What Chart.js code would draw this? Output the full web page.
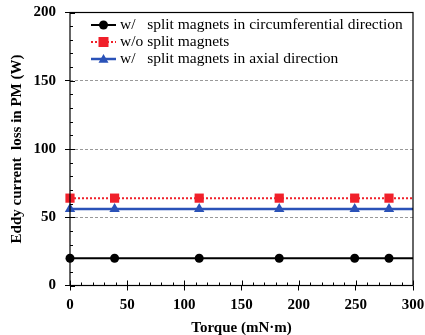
<!DOCTYPE html>
<html>
<head>
<meta charset="utf-8">
<script src="https://cdn.jsdelivr.net/npm/chart.js@4.4.1/dist/chart.umd.min.js"></script>
<style>
  html, body { margin: 0; padding: 0; background: #fff; }
  #wrap { width: 425px; height: 335px; }
</style>
</head>
<body>
<div id="wrap"><canvas id="lossChart" width="425" height="335"></canvas></div>
<script>
// torque points (mN·m); last entry only carries the line to the frame edge
var torque = [0, 39, 113, 183, 249, 279, 300];
var lossCircum = [20, 20, 20, 20, 20, 20, 20];
var lossNoSplit = [64, 64, 64, 64, 64, 64, 64];
var lossAxial = [56, 56, 56, 56, 56, 56, 56];
var seriesNames = [
  "w/   split magnets in circumferential direction",
  "w/o split magnets",
  "w/   split magnets in axial direction"
];
var xTicks = [0, 50, 100, 150, 200, 250, 300];
var yTicks = [0, 50, 100, 150, 200];

const serif = "'Liberation Serif', 'Times New Roman', serif";

function pts(ys) {
  return torque.map((t, i) => ({ x: t, y: ys[i] }));
}
// hide the marker on the extension point
function radii(r) {
  return torque.map((t, i) => (i === torque.length - 1 ? 0 : r));
}

// box frame, inside ticks and the in-plot legend
const framePlugin = {
  id: "frame",
  afterDatasetsDraw(chart) {
    const ctx = chart.ctx;
    const a = chart.chartArea;
    const xs = chart.scales.x, ys = chart.scales.y;
    ctx.save();
    ctx.strokeStyle = "#000";
    ctx.lineWidth = 1;
    ctx.beginPath();
    for (let v = 0; v <= 300; v += 10) {
      const px = Math.round(xs.getPixelForValue(v)) + 0.5;
      const len = v % 50 === 0 ? 5 : 3;
      ctx.moveTo(px, a.bottom);
      ctx.lineTo(px, a.bottom - len);
    }
    for (let v = 0; v <= 200; v += 10) {
      const py = Math.round(ys.getPixelForValue(v)) + 0.5;
      const len = v % 50 === 0 ? 5 : 3;
      ctx.moveTo(a.left, py);
      ctx.lineTo(a.left + len, py);
    }
    ctx.stroke();
    ctx.lineWidth = 1.2;
    ctx.strokeRect(a.left, a.top, a.right - a.left, a.bottom - a.top);

    // legend
    const rows = [25, 42, 59];
    chart.data.datasets.forEach((ds, i) => {
      const y = rows[i];
      ctx.strokeStyle = ds.borderColor;
      ctx.lineWidth = ds.borderWidth;
      ctx.setLineDash(ds.borderDash || []);
      ctx.beginPath();
      ctx.moveTo(91, y);
      ctx.lineTo(116, y);
      ctx.stroke();
      ctx.setLineDash([]);
      ctx.fillStyle = ds.pointBackgroundColor;
      drawMarker(ctx, ds.pointStyle, 103.5, y, 5);
      ctx.fillStyle = "#000";
      ctx.font = "15.5px " + serif;
      ctx.textBaseline = "middle";
      ctx.fillText(seriesNames[i], 120, y);
    });
    ctx.restore();
  }
};

function drawMarker(ctx, style, x, y, r) {
  ctx.beginPath();
  if (style === "rect") {
    ctx.rect(x - r, y - r, 2 * r, 2 * r);
  } else if (style === "triangle") {
    ctx.moveTo(x, y - r);
    ctx.lineTo(x + r, y + r * 0.75);
    ctx.lineTo(x - r, y + r * 0.75);
    ctx.closePath();
  } else {
    ctx.arc(x, y, r - 0.5, 0, Math.PI * 2);
  }
  ctx.fill();
}

new Chart("lossChart", {
  type: "line",
  data: {
    datasets: [{
      label: seriesNames[0],
      data: pts(lossCircum),
      borderColor: "#000",
      backgroundColor: "#000",
      pointBackgroundColor: "#000",
      pointBorderColor: "#000",
      borderWidth: 2,
      pointStyle: "circle",
      pointBorderWidth: 0,
      pointRadius: radii(4.5)
    }, {
      label: seriesNames[1],
      data: pts(lossNoSplit),
      borderColor: "#f0202a",
      backgroundColor: "#f0202a",
      pointBackgroundColor: "#f0202a",
      pointBorderColor: "#f0202a",
      borderWidth: 2,
      borderDash: [2, 2],
      pointStyle: "rect",
      pointBorderWidth: 0,
      pointRadius: radii(6.5)
    }, {
      label: seriesNames[2],
      data: pts(lossAxial),
      borderColor: "#2a52b8",
      backgroundColor: "#2a52b8",
      pointBackgroundColor: "#2a52b8",
      pointBorderColor: "#2a52b8",
      borderWidth: 2.5,
      pointStyle: "triangle",
      pointBorderWidth: 0,
      pointRadius: radii(6)
    }]
  },
  options: {
    responsive: false,
    animation: false,
    clip: false,
    layout: { padding: { left: 0, right: 12, top: 12.5, bottom: 0 } },
    plugins: { legend: { display: false }, tooltip: { enabled: false } },
    scales: {
      x: {
        type: "linear",
        min: 0,
        max: 300,
        afterBuildTicks: s => { s.ticks = xTicks.map(v => ({ value: v })); },
        afterFit: s => { s.height = 49.5; s.paddingLeft = 0; s.paddingRight = 0; },
        grid: { display: true, drawOnChartArea: false, drawTicks: true, tickLength: 5, color: "#000" },
        border: { display: false },
        ticks: {
          color: "#000",
          padding: 6,
          maxRotation: 0,
          font: { family: serif, size: 15, weight: "bold" }
        },
        title: {
          display: true,
          text: "Torque (mN·m)",
          color: "#000",
          padding: { top: 0, bottom: -2 },
          font: { family: serif, size: 15, weight: "bold" }
        }
      },
      y: {
        min: 0,
        max: 200,
        afterBuildTicks: s => { s.ticks = yTicks.map(v => ({ value: v })); },
        afterFit: s => { s.width = 70; s.paddingTop = 0; s.paddingBottom = 0; },
        grid: {
          drawTicks: true,
          tickLength: 5,
          tickColor: "#000",
          color: ctx => (ctx.tick && (ctx.tick.value === 0 || ctx.tick.value === 200)) ? "rgba(0,0,0,0)" : "#999",
          lineWidth: 1
        },
        border: { display: false, dash: [3, 2] },
        ticks: {
          color: "#000",
          padding: 9,
          font: { family: serif, size: 15, weight: "bold" }
        },
        title: {
          display: true,
          text: "Eddy current  loss in PM (W)",
          color: "#000",
          padding: { top: 8, bottom: 8 },
          font: { family: serif, size: 15, weight: "bold" }
        }
      }
    }
  },
  plugins: [framePlugin]
});
</script>
</body>
</html>
